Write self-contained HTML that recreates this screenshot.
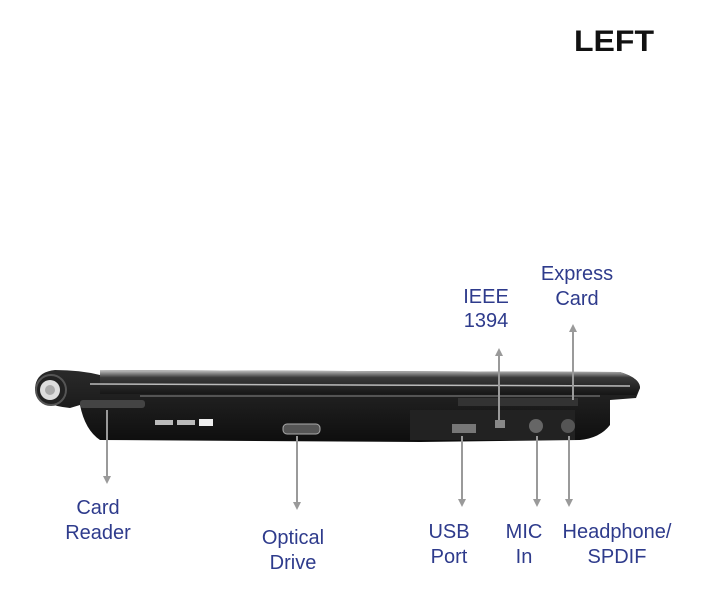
<!DOCTYPE html>
<html><head><style>
body{margin:0;background:#fff;}
svg text{font-family:"Liberation Sans",Arial,sans-serif;}
</style></head><body>
<svg width="705" height="600" viewBox="0 0 705 600" xmlns="http://www.w3.org/2000/svg">
<defs>
<linearGradient id="lid" x1="0" y1="0" x2="0" y2="1">
<stop offset="0" stop-color="#c8c8c8"/><stop offset="0.3" stop-color="#3a3a3a"/><stop offset="1" stop-color="#151515"/>
</linearGradient>
<linearGradient id="base" x1="0" y1="0" x2="0" y2="1">
<stop offset="0" stop-color="#2a2a2a"/><stop offset="1" stop-color="#0e0e0e"/>
</linearGradient>
<marker id="ah" viewBox="0 0 10 10" refX="5" refY="5" markerWidth="4" markerHeight="4" orient="auto-start-reverse">
<path d="M0,0 L10,5 L0,10 z" fill="#9a9a9a"/></marker>
</defs>
<text x="574" y="51" font-size="30" font-weight="bold" fill="#111" textLength="80" lengthAdjust="spacingAndGlyphs">LEFT</text>

<path d="M100,370 L620,372 Q640,378 640,388 L636,398 L610,400 L610,425 Q600,438 580,440 L420,442 L100,440 Q85,430 80,405 L70,408 Q40,405 35,390 Q35,372 55,370 Q80,370 100,375 Z" fill="url(#base)"/>
<path d="M100,370 L620,372 Q640,378 640,388 L636,395 L100,394 Z" fill="url(#lid)"/>
<path d="M90,384 L630,386" stroke="#bbb" stroke-width="1.5"/>
<path d="M140,396 L600,396" stroke="#888" stroke-width="1"/>
<circle cx="51" cy="390" r="15" fill="#222" stroke="#555" stroke-width="2"/>
<circle cx="50" cy="390" r="10" fill="#ddd"/>
<circle cx="50" cy="390" r="5" fill="#aaa"/>
<rect x="80" y="400" width="65" height="8" rx="3" fill="#444"/>
<rect x="155" y="420" width="18" height="5" fill="#bbb"/>
<rect x="177" y="420" width="18" height="5" fill="#bbb"/>
<rect x="199" y="419" width="14" height="7" fill="#eee"/>
<rect x="283" y="424" width="37" height="10" rx="4" fill="#555" stroke="#aaa"/>
<rect x="410" y="410" width="165" height="30" fill="#222"/>
<rect x="452" y="424" width="24" height="9" fill="#777"/>
<rect x="495" y="420" width="10" height="8" fill="#888"/>
<circle cx="536" cy="426" r="7" fill="#666"/>
<circle cx="568" cy="426" r="7" fill="#555"/>
<rect x="458" y="398" width="120" height="8" fill="#333"/>

<g stroke="#9a9a9a" stroke-width="2" fill="none">
<line x1="107" y1="410" x2="107" y2="480" marker-end="url(#ah)"/>
<line x1="297" y1="436" x2="297" y2="506" marker-end="url(#ah)"/>
<line x1="462" y1="436" x2="462" y2="503" marker-end="url(#ah)"/>
<line x1="537" y1="436" x2="537" y2="503" marker-end="url(#ah)"/>
<line x1="569" y1="436" x2="569" y2="503" marker-end="url(#ah)"/>
<line x1="499" y1="420" x2="499" y2="352" marker-end="url(#ah)"/>
<line x1="573" y1="400" x2="573" y2="328" marker-end="url(#ah)"/>
</g>

<g font-size="20" fill="#2e3b8c" text-anchor="middle">
<text x="577" y="280">Express</text><text x="577" y="305">Card</text>
<text x="486" y="303">IEEE</text><text x="486" y="327">1394</text>
<text x="98" y="514">Card</text><text x="98" y="539">Reader</text>
<text x="293" y="544">Optical</text><text x="293" y="569">Drive</text>
<text x="449" y="538">USB</text><text x="449" y="563">Port</text>
<text x="524" y="538">MIC</text><text x="524" y="563">In</text>
<text x="617" y="538">Headphone/</text><text x="617" y="563">SPDIF</text>
</g>
</svg>
</body></html>
